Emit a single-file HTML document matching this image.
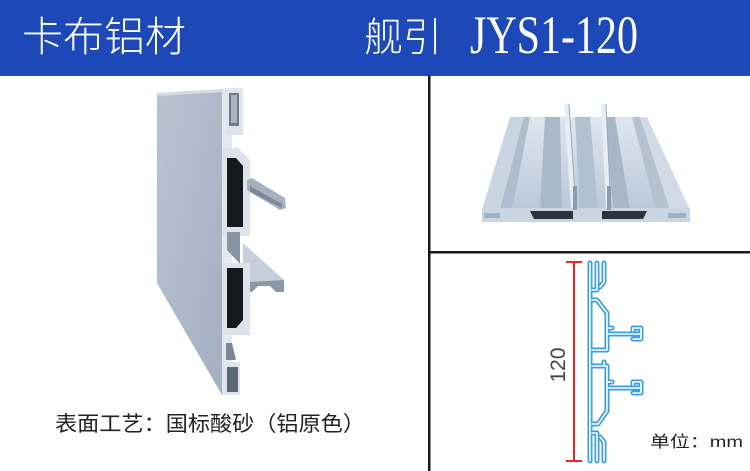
<!DOCTYPE html>
<html><head><meta charset="utf-8"><style>
html,body{margin:0;padding:0;background:#fff;}
svg{display:block;}
</style></head><body>
<svg width="750" height="471" viewBox="0 0 750 471" xmlns="http://www.w3.org/2000/svg">
<defs>
<linearGradient id="pan" x1="0" y1="0" x2="1" y2="1">
<stop offset="0" stop-color="#b9c3d0"/><stop offset="1" stop-color="#a3b0c1"/>
</linearGradient>
<linearGradient id="top" x1="0" y1="0" x2="0" y2="1">
<stop offset="0" stop-color="#dfe7ef"/><stop offset="1" stop-color="#b9c8d7"/>
</linearGradient>
</defs>
<rect x="0" y="0" width="750" height="471" fill="#fff"/>
<!-- header -->
<rect x="0" y="0" width="750" height="76" fill="#1d48b7"/>
<text x="22" y="51" font-family="'Noto Sans CJK SC','WenQuanYi Zen Hei',sans-serif" font-weight="300" font-size="41" fill="#fff" textLength="164" lengthAdjust="spacingAndGlyphs">卡布铝材</text>
<text x="364" y="51" font-family="'Noto Sans CJK SC','WenQuanYi Zen Hei',sans-serif" font-weight="300" font-size="40" fill="#fff" textLength="78" lengthAdjust="spacingAndGlyphs">舰引</text>
<text x="470" y="53" font-family="'Liberation Serif',serif" font-size="54" fill="#fff" textLength="168" lengthAdjust="spacingAndGlyphs">JYS1-120</text>
<!-- dividers -->
<rect x="428" y="76" width="2.5" height="395" fill="#1a1a1a"/>
<rect x="428" y="251" width="322" height="2.5" fill="#1a1a1a"/>

<!-- left profile image -->
<polygon points="157,93 224,89 224,395 222,395 157,283" fill="url(#pan)"/>
<polygon points="157,93 224,89 224,92 158,96" fill="#d5dbe3"/>
<rect x="222" y="90" width="10" height="305" fill="#e4e9ef"/>
<!-- top channel -->
<rect x="225" y="88" width="18" height="47" fill="#dfe5ec"/>
<rect x="229" y="93" width="10" height="33" fill="#6f7b88"/>
<rect x="231" y="95" width="6" height="28" fill="#a9b4c1"/>
<!-- upper box -->
<polygon points="222,148 238,148 250,160 250,236 222,236" fill="#dde3ea"/>
<polygon points="227,158 236,158 243,166 243,227 227,227" fill="#16191e"/>
<!-- upper arm -->
<polygon points="247,180 252,178 285,198 286,208 280,210 247,190" fill="#a6b1be"/>
<polygon points="250,186 282,204 282,208 250,192" fill="#7d8996"/>
<!-- middle triangle -->
<polygon points="227,232 240,232 240,264 227,250" fill="#8794a3"/>
<!-- lower arm wedge -->
<polygon points="243,243 284,280 284,286 243,286" fill="#c7d0da"/>
<polygon points="250,282 284,280 284,292 276,292 270,286 258,286 252,292 246,292" fill="#8996a4"/>
<!-- lower box -->
<rect x="222" y="263" width="28" height="72" fill="#dde3ea"/>
<polygon points="227,268 243,268 243,320 236,328 227,328" fill="#16191e"/>
<!-- bottom triangle -->
<polygon points="226,343 232,343 236,360 226,360" fill="#7b8796"/>
<!-- bottom channel -->
<rect x="222" y="362" width="18" height="33" fill="#dfe5ec"/>
<rect x="227" y="367" width="11" height="25" fill="#5d6875"/>

<!-- top right 3D profile -->
<polygon points="510,117 647,117 690,210 482,210" fill="url(#top)"/>
<polygon points="510,117 524,117 500,210 482,210" fill="#c9d5e1"/>
<polygon points="524,117 530,117 512,210 500,210" fill="#aebdcc"/>
<polygon points="545,117 560,117 562,210 540,210" fill="#a9b9c9"/>
<polygon points="575,117 590,117 598,210 580,210" fill="#b2c1d0"/>
<polygon points="603,117 615,117 630,210 614,210" fill="#a7b7c7"/>
<polygon points="632,117 640,117 670,210 656,210" fill="#b4c2d0"/>
<polygon points="640,117 647,117 690,210 670,210" fill="#d0dbe6"/>
<!-- ribs -->
<polygon points="564,104 569,104 576,210 571,210" fill="#e6edf3"/>
<polygon points="601,104 606,104 611,210 606,210" fill="#e6edf3"/>
<line x1="569" y1="104" x2="576" y2="210" stroke="#98a8b8" stroke-width="1"/>
<line x1="606" y1="104" x2="611" y2="210" stroke="#98a8b8" stroke-width="1"/>
<!-- front face -->
<rect x="482" y="208" width="208" height="14" fill="#c9d5e0"/>
<rect x="484" y="213" width="16" height="5" fill="#9fb0c0"/>
<rect x="668" y="213" width="18" height="5" fill="#9fb0c0"/>
<polygon points="530,211 573,211 573,219 534,219" fill="#2d333a"/>
<polygon points="602,211 647,211 643,219 602,219" fill="#2d333a"/>
<rect x="573" y="186" width="4" height="24" fill="#8c9cac"/>
<rect x="607" y="186" width="4" height="24" fill="#8c9cac"/>

<!-- bottom right drawing -->
<g stroke="#e8262a" stroke-width="2" fill="none">
<line x1="574" y1="262" x2="574" y2="461"/>
<line x1="566" y1="262" x2="582" y2="262"/>
<line x1="566" y1="461" x2="582" y2="461"/>
</g>
<text transform="translate(565,365) rotate(-90)" text-anchor="middle" font-family="'Liberation Sans',sans-serif" font-size="21" fill="#444">120</text>
<g fill="none" stroke-linejoin="round" stroke-linecap="round">
<g stroke="#3a9ee0" stroke-width="5">
<path d="M590,263 V461"/>
<path d="M592,290 H597 V263"/>
<path d="M604,263 V282 L600,287"/>
<path d="M592,300 H597 L607,313 V350 H592"/>
<path d="M607,334 H640"/>
<path d="M607,328 H612"/>
<path d="M633,331 V328 H641 V339 H633"/>
<path d="M592,366 H607 V411 L598,424 H592"/>
<path d="M604,362 V366"/>
<path d="M607,388 H640"/>
<path d="M607,382 H612"/>
<path d="M633,385 V382 H641 V393 H633"/>
<path d="M592,433 H597 V461"/>
<path d="M604,461 V442 L600,437"/>
</g>
<g stroke="#ffffff" stroke-width="1.6">
<path d="M590,263 V461"/>
<path d="M592,290 H597 V263"/>
<path d="M604,263 V282 L600,287"/>
<path d="M592,300 H597 L607,313 V350 H592"/>
<path d="M607,334 H640"/>
<path d="M607,328 H612"/>
<path d="M633,331 V328 H641 V339 H633"/>
<path d="M592,366 H607 V411 L598,424 H592"/>
<path d="M604,362 V366"/>
<path d="M607,388 H640"/>
<path d="M607,382 H612"/>
<path d="M633,385 V382 H641 V393 H633"/>
<path d="M592,433 H597 V461"/>
<path d="M604,461 V442 L600,437"/>
</g>
</g>

<!-- captions -->
<text x="55" y="431" font-family="'Liberation Sans','Noto Sans CJK SC',sans-serif" font-size="21" fill="#222" textLength="310" lengthAdjust="spacingAndGlyphs">表面工艺：国标酸砂（铝原色）</text>
<text x="650" y="447" font-family="'Liberation Sans','Noto Sans CJK SC',sans-serif" font-size="16" fill="#222" textLength="93" lengthAdjust="spacingAndGlyphs">单位：mm</text>
</svg>
</body></html>
